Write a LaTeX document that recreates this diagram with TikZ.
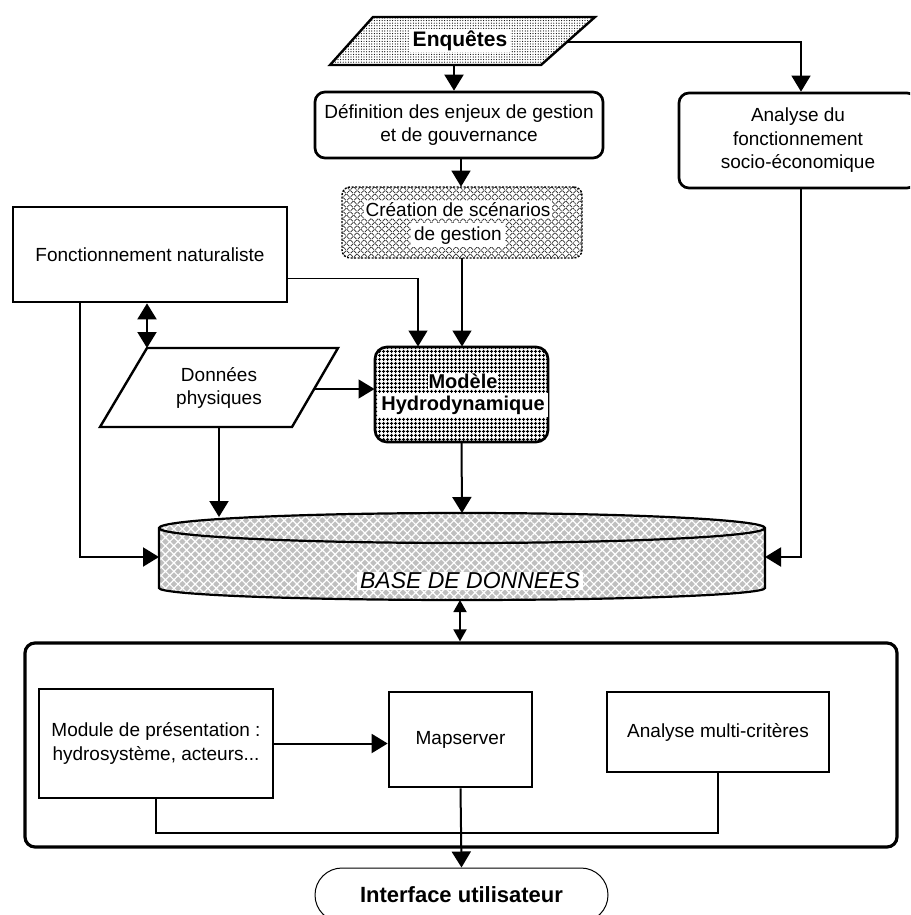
\documentclass[tikz,border=0pt]{standalone}
\usepackage{fontspec}
\setmainfont{Liberation Sans}
\usetikzlibrary{arrows.meta,patterns.meta,calc}
\begin{document}
\begin{tikzpicture}[x=1pt,y=-1pt,
  box/.style={draw,line width=2.7pt,inner sep=2pt},
  rbox/.style={box,rounded corners=10pt},
  arr/.style={line width=2pt,-{Triangle[length=16pt,width=19pt]}},
  tarr/.style={line width=1.4pt,-{Triangle[length=16pt,width=19pt]}},
  sarr/.style={line width=1.8pt,{Triangle[length=12pt,width=13pt]}-{Triangle[length=12pt,width=13pt]}},
  darr/.style={line width=2pt,{Triangle[length=16pt,width=19pt]}-{Triangle[length=16pt,width=19pt]}},
  plain/.style={line width=2pt},
  txt/.style={font=\fontsize{19}{23.5}\selectfont,align=center},
  btxt/.style={font=\fontsize{21}{24}\selectfont\bfseries,align=center},
  wbg/.style={fill=white,inner xsep=3pt,inner ysep=1pt},
]
\useasboundingbox (0,0) rectangle (910,915);
\clip (0,0) rectangle (910,915);

% ---------- Enquetes ----------
\draw[line width=2.4pt,pattern={Dots[distance=2.6pt,radius=0.6pt]}]
  (373,17) -- (595,17) -- (541,65) -- (330,65) -- cycle;
\node[btxt,wbg] (enq) at (460,41) {Enquêtes};
\coordinate (enqB) at (454,65);
\coordinate (enqR) at (568,42);

% ---------- top boxes ----------
\node[rbox,txt,minimum width=288,minimum height=66] (def) at (459,125)
  {Définition des enjeux de gestion\\et de gouvernance};
\node[rbox,txt,minimum width=238,minimum height=95] (ana) at (798,140.5)
  {Analyse du\\fonctionnement\\socio-économique};

\node[draw,line width=1.4pt,dash pattern=on 2pt off 1.5pt,rounded corners=8pt,
  minimum width=240,minimum height=71,
  pattern={Hatch[angle=45,distance=5pt,line width=0.7pt]},pattern color=black!85]
  (cre) at (462,222.5) {};
\node[txt,inner sep=0pt] (cret) at (458,224)
  {\setlength{\fboxsep}{1.5pt}\colorbox{white}{Création de scénarios}\\\colorbox{white}{de gestion}};

\node[box,txt,minimum width=274,minimum height=95] (fon) at (150,254.5)
  {Fonctionnement naturaliste};

% ---------- Modele ----------
\node[box,rounded corners=12pt,minimum width=173,minimum height=95,
  pattern={Hatch[angle=0,distance=4pt,line width=1pt]}] (mod) at (461.5,394.5) {};
\node[btxt,inner sep=0pt,font=\fontsize{20}{22}\selectfont\bfseries] (modt) at (463,395)
  {\setlength{\fboxsep}{1pt}\colorbox{white}{Modèle}\\\colorbox{white}{Hydrodynamique}};

% ---------- Donnees ----------
\draw[line width=2.4pt] (147,348) coordinate (donTL) -- (338,348) -- (292,427) -- (100,427) -- cycle;
\node[txt] (don) at (219,388) {Données\\physiques};
\coordinate (donR) at (315,389);
\coordinate (donB) at (219,427);

% ---------- Base de donnees ----------
\path[draw,line width=2.2pt,preaction={fill=gray!50},
  pattern={Hatch[angle=45,distance=6pt,line width=1.2pt]},pattern color=white]
  (159,528) -- (159,588) arc[start angle=180,end angle=0,x radius=303,y radius=12]
  -- (765,528) arc[start angle=0,end angle=-180,x radius=303,y radius=15] -- cycle;
\draw[line width=2.2pt] (159,528) arc[start angle=180,end angle=0,x radius=303,y radius=15];
\node[font=\fontsize{23}{26}\selectfont\itshape,wbg] (bdt) at (470,581) {BASE DE DONNEES};
\coordinate (bdL) at (159,557);
\coordinate (bdR) at (765,557);
\coordinate (bdT1) at (219,517);
\coordinate (bdtop) at (462,513);
\coordinate (bdbot) at (460,600);
\coordinate (lx) at (80,0);
\coordinate (rx) at (801,0);

% ---------- bottom frame ----------
\node[draw,line width=3.2pt,rounded corners=10pt,minimum width=872,minimum height=204] (big) at (461,745) {};
\node[box,txt,minimum width=234,minimum height=109] (modu) at (156,743.5)
  {Module de présentation :\\hydrosystème, acteurs...};
\node[box,txt,minimum width=143,minimum height=95] (map) at (460.5,739.5) {Mapserver};
\node[box,txt,minimum width=222,minimum height=80] (amc) at (718,732) {Analyse multi-critères};
\node[draw,line width=1pt,rounded corners=27pt,minimum width=293,minimum height=54,btxt,
  font=\fontsize{22}{24}\selectfont\bfseries]
  (iface) at (461.5,895) {Interface utilisateur};
\coordinate (jy) at (0,833);

% ---------- connectors ----------
\draw[arr] (enqB) -- (enqB |- def.north);
\draw[tarr] (enqR) -| ([xshift=3pt]ana.north);
\draw[tarr] ([xshift=2pt]def.south) -- ([xshift=2pt]def.south |- cre.north);
\draw[tarr] ($(fon.south east)+(0,-25)$) -| ([xshift=-43.5pt]mod.north);
\draw[tarr] (cre.south) -- (cre.south |- mod.north);
\draw[tarr] (donR) -- (donR -| mod.west);
\draw[darr] (fon.south -| donTL) -- (donTL);
\draw[arr] (fon.south -| lx) |- (bdL);
\draw[arr] (ana.south -| rx) |- (bdR);
\draw[arr] (donB) -- (bdT1);
\draw[arr] (mod.south) -- (bdtop);
\draw[sarr] (bdbot) -- (big.north -| bdbot);
\draw[arr] (modu.east) -- (map.west |- modu.east);
\draw[plain] (modu.south) |- (jy -| amc.south) -- (amc.south);
\draw[arr] (map.south) -- (iface.north);
\end{tikzpicture}
\end{document}
